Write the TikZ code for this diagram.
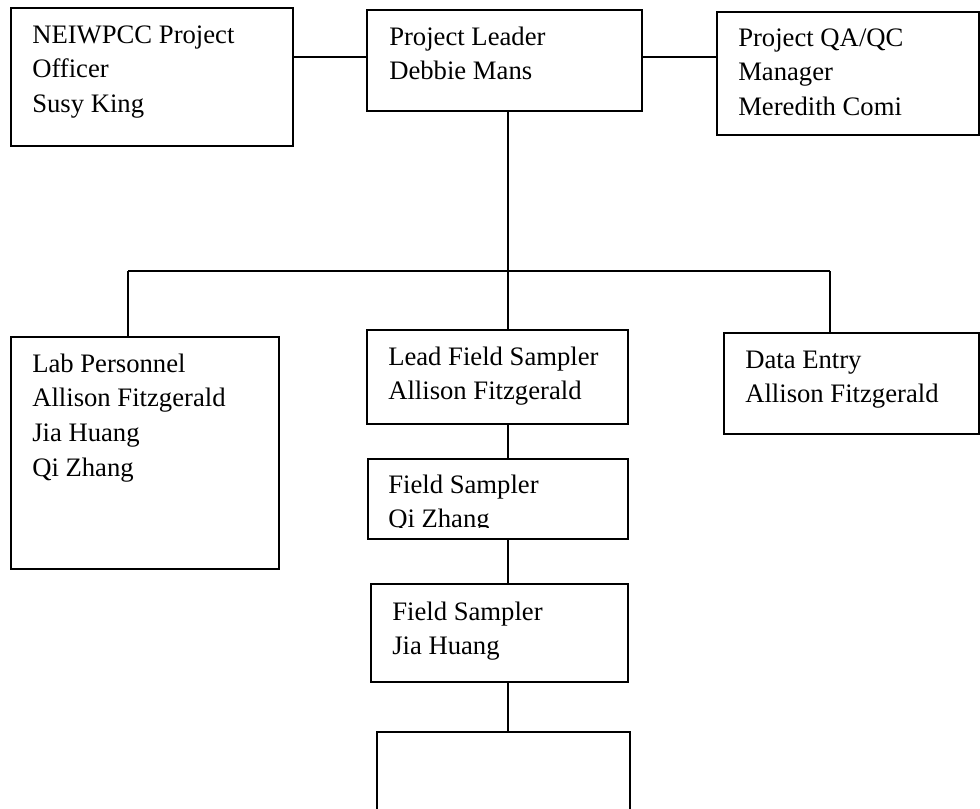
\documentclass[tikz,border=0pt]{standalone}
\usepackage{fontspec}
\setmainfont{Liberation Serif}
\usetikzlibrary{fit}
\begin{document}
\begin{tikzpicture}[x=0.75pt,y=-0.75pt,
  box/.style={draw, line width=1.2pt, inner sep=0pt},
  txt/.style={inner sep=0pt, anchor=base west, font=\fontsize{20}{26}\selectfont},
  conn/.style={line width=1.2pt}]
\useasboundingbox (0,0) rectangle (980,808);
\clip (0,0) rectangle (980,808);
% boxes
\node[box, fit={(11,8) (293,146)}] (neiw) {};
\node[box, fit={(367,10) (642,111)}] (lead) {};
\node[box, fit={(717,12) (979,135)}] (qa) {};
\node[box, fit={(11,337) (279,569)}] (lab) {};
\node[box, fit={(367,330) (628,424)}] (lfs) {};
\node[box, fit={(724,333) (979,434)}] (data) {};
\node[box, fit={(368,459) (628,539)}] (fsa) {};
\node[box, fit={(371,584) (628,682)}] (fsb) {};
\node[box, fit={(377,732) (630,840)}] (empty) {};
% texts
\node[txt] (neiwt) at (32,43) {\begin{tabular}[t]{@{}l@{}}NEIWPCC Project\\Officer\\Susy King\end{tabular}};
\node[txt] (leadt) at (389,45) {\begin{tabular}[t]{@{}l@{}}Project Leader\\Debbie Mans\end{tabular}};
\node[txt] (qat) at (738,46) {\begin{tabular}[t]{@{}l@{}}Project QA/QC\\Manager\\Meredith Comi\end{tabular}};
\node[txt] (labt) at (32,372) {\begin{tabular}[t]{@{}l@{}}Lab Personnel\\Allison Fitzgerald\\Jia Huang\\Qi Zhang\end{tabular}};
\node[txt] (lfst) at (388,365) {\begin{tabular}[t]{@{}l@{}}Lead Field Sampler\\Allison Fitzgerald\end{tabular}};
\node[txt] (datat) at (745,368) {\begin{tabular}[t]{@{}l@{}}Data Entry\\Allison Fitzgerald\end{tabular}};
\begin{scope}
\clip (368,459) rectangle (628,527);
\node[txt] (fsat) at (388,493) {\begin{tabular}[t]{@{}l@{}}Field Sampler\\Qi Zhang\end{tabular}};
\end{scope}
\node[txt] (fsbt) at (392,620) {\begin{tabular}[t]{@{}l@{}}Field Sampler\\Jia Huang\end{tabular}};
% connectors
\coordinate (top) at (330,57);
\coordinate (bus) at (508,271);
\coordinate (busL) at (128,271);
\coordinate (busR) at (830,271);
\draw[conn] (neiw.east |- top) -- (lead.west |- top);
\draw[conn] (lead.east |- top) -- (qa.west |- top);
\draw[conn] (bus |- lead.south) -- (bus);
\draw[conn] (busL) -- (busR);
\draw[conn] (busL) -- (busL |- lab.north);
\draw[conn] (busR) -- (busR |- data.north);
\draw[conn] (bus) -- (bus |- lfs.north);
\draw[conn] (bus |- lfs.south) -- (bus |- fsa.north);
\draw[conn] (bus |- fsa.south) -- (bus |- fsb.north);
\draw[conn] (bus |- fsb.south) -- (bus |- empty.north);
\end{tikzpicture}
\end{document}
